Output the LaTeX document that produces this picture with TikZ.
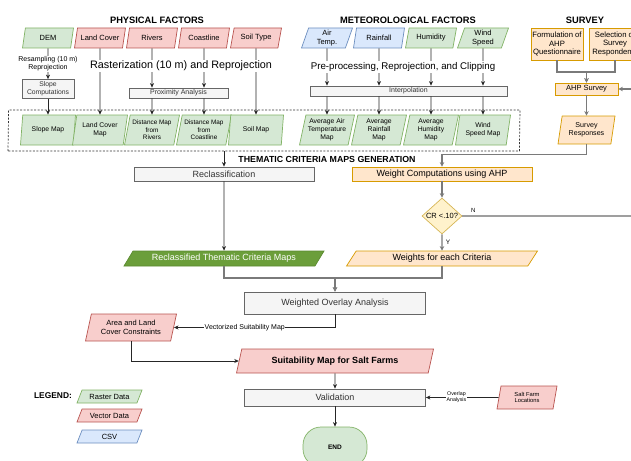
\documentclass[tikz,border=0pt]{standalone}
\usepackage{fontspec}
\setmainfont{Liberation Sans}
\usepackage{tikz}
\usetikzlibrary{arrows.meta, positioning, shapes.geometric}

\definecolor{rastfill}{HTML}{D5E8D4}
\definecolor{rastline}{HTML}{82B366}
\definecolor{vecfill}{HTML}{F8CECC}
\definecolor{vecline}{HTML}{B85450}
\definecolor{csvfill}{HTML}{DAE8FC}
\definecolor{csvline}{HTML}{6C8EBF}
\definecolor{ahpfill}{HTML}{FFE6CC}
\definecolor{ahpline}{HTML}{D79B00}
\definecolor{crfill}{HTML}{FFF2CC}
\definecolor{crline}{HTML}{D6B656}
\definecolor{procfill}{HTML}{F5F5F5}
\definecolor{procline}{HTML}{666666}
\definecolor{proctext}{HTML}{333333}
\definecolor{critfill}{HTML}{6B9E3A}
\definecolor{critline}{HTML}{5B8A30}
\definecolor{linkgray}{HTML}{7A7A7A}

\newcommand{\fsz}[2]{\fontsize{#1}{#2}\selectfont}

\begin{document}
\begin{tikzpicture}[
  x=1pt, y=-1pt,
  para/.style={trapezium, trapezium left angle=#1, trapezium right angle={180-#1},
    trapezium stretches body=true, inner sep=1pt, align=center, line width=0.7pt},
  para/.default=68,
  raster/.style={draw=rastline, fill=rastfill},
  vector/.style={draw=vecline, fill=vecfill},
  csv/.style={draw=csvline, fill=csvfill},
  ahp/.style={draw=ahpline, fill=ahpfill},
  inbox/.style={para=68, minimum width=51pt, minimum height=20pt, font=\fsz{7.5}{8.6}},
  mapbox/.style={para=75, minimum width=55pt, minimum height=30pt, font=\fsz{6.8}{7.8}},
  procbox/.style={rectangle, draw=procline, fill=procfill, text=proctext, inner sep=0pt, align=center, line width=0.7pt},
  ahpbox/.style={rectangle, ahp, inner sep=0pt, align=center, line width=0.7pt},
  legbox/.style={para=55, minimum width=65pt, minimum height=13pt, font=\fsz{7.5}{8.6}},
  heading/.style={font=\bfseries\fsz{9.3}{11}},
  note/.style={fill=white, inner sep=0.5pt, align=center},
  link/.style={draw=black!85, line width=0.8pt, -{Stealth[length=4.5pt,width=4pt,inset=1.3pt]}},
  glink/.style={draw=linkgray, line width=1.2pt, -{Stealth[length=4.5pt,width=4.5pt,inset=1.3pt]}},
  nline/.style={draw=gray!75, line width=1.2pt}
]
\useasboundingbox (0,0) rectangle (631,460);
\clip (0,0) rectangle (631,460);

% headings
\node[heading] (physhead) at (157,20) {PHYSICAL FACTORS};
\node[heading] (methead) at (408,20) {METEOROLOGICAL FACTORS};
\node[heading] (survhead) at (585,20) {SURVEY};
\node[font=\bfseries\fsz{8.8}{10}] (themhead) at (327,159) {THEMATIC CRITERIA MAPS GENERATION};

% input data
\node[inbox, raster] (dem) at (48,38) {DEM};
\node[inbox, vector] (landcover) at (100,38) {Land Cover};
\node[inbox, vector] (rivers) at (152,38) {Rivers};
\node[inbox, vector] (coast) at (204,38) {Coastline};
\node[inbox, vector] (soiltype) at (256,38) {Soil Type};
\node[inbox, csv] (airtemp) at (327,38) {Air\\Temp.};
\node[inbox, csv] (rainfall) at (379,38) {Rainfall};
\node[inbox, raster] (humidity) at (431,38) {Humidity};
\node[inbox, raster] (windspeed) at (483,38) {Wind\\Speed};

% preprocessing
\node[procbox, minimum width=52pt, minimum height=19pt, font=\fsz{6.8}{7.8}] (slopecomp) at (48,89) {Slope\\Computations};
\node[procbox, minimum width=99pt, minimum height=10pt, font=\fsz{7}{8}] (proximity) at (178.5,93) {Proximity Analysis};
\node[procbox, minimum width=197pt, minimum height=10pt, font=\fsz{7}{8}] (interp) at (408.5,91) {Interpolation};

% criteria maps
\node[para=73.7, draw=black!80, dash pattern=on 2pt off 1.5pt, minimum width=512pt, minimum height=41pt] (mapframe) at (264,130.5) {};
\node[mapbox, raster] (slopemap) at (48,130) {Slope Map};
\node[mapbox, raster] (lcmap) at (100,130) {Land Cover\\Map};
\node[mapbox, raster, font=\fsz{6.4}{7.3}] (rivmap) at (152,130) {Distance Map\\from\\Rivers};
\node[mapbox, raster, font=\fsz{6.4}{7.3}] (coastmap) at (204,130) {Distance Map\\from\\Coastline};
\node[mapbox, raster] (soilmap) at (256,130) {Soil Map};
\node[mapbox, raster] (airmap) at (327,130) {Average Air\\Temperature\\Map};
\node[mapbox, raster] (rainmap) at (379,130) {Average\\Rainfall\\Map};
\node[mapbox, raster] (hummap) at (431,130) {Average\\Humidity\\Map};
\node[mapbox, raster] (windmap) at (483,130) {Wind\\Speed Map};

% survey
\node[ahpbox, minimum width=52pt, minimum height=32pt, font=\fsz{7.7}{8.8}] (formulation) at (557,44) {Formulation of\\AHP\\Questionnaire};
\node[ahpbox, minimum width=52pt, minimum height=32pt, font=\fsz{7.7}{8.8}] (selection) at (615,44) {Selection of\\Survey\\Respondents};
\node[ahpbox, minimum width=63pt, minimum height=12pt, font=\fsz{7.5}{8.6}] (ahpsurvey) at (586.5,89) {AHP Survey};
\node[para=76, ahp, minimum width=57pt, minimum height=28pt, font=\fsz{7.1}{8.2}] (responses) at (586.5,130) {Survey\\Responses};
\coordinate (surveyjoin) at (586.5,72);
\coordinate (nreturn) at (645,89);

% thematic criteria maps generation
\node[procbox, minimum width=180pt, minimum height=14pt, font=\fsz{9}{10}] (reclass) at (224,174) {Reclassification};
\node[ahpbox, minimum width=180pt, minimum height=14pt, font=\fsz{9}{10}] (wcomp) at (442,174) {Weight Computations using AHP};
\node[diamond, draw=crline, fill=crfill, line width=0.7pt, minimum width=40pt, minimum height=36pt, inner sep=0pt,
  label={[font=\fsz{7.5}{8.6}]center:CR <.10?}] (cr) at (442,216) {};
\coordinate (nexit) at (645,216);
\node[para=49, draw=critline, fill=critfill, text=white, minimum width=200pt, minimum height=15pt, font=\fsz{9}{10}] (critmaps) at (224,258.5) {Reclassified Thematic Criteria Maps};
\node[para=47, ahp, minimum width=191pt, minimum height=15pt, font=\fsz{9}{10}] (weights) at (442,258.5) {Weights for each Criteria};
\coordinate (overlayjoin) at (335,278);

% overlay and validation
\node[procbox, minimum width=181pt, minimum height=22pt, font=\fsz{9}{10}] (overlay) at (335,303) {Weighted Overlay Analysis};
\node[para=70, vector, minimum width=91pt, minimum height=27pt, font=\fsz{7.5}{8.6}] (constraints) at (131,327.5) {Area and Land\\Cover Constraints};
\node[para=63, vector, minimum width=197pt, minimum height=24pt, font=\bfseries\fsz{9}{10}] (suitmap) at (335,361) {Suitability Map for Salt Farms};
\node[procbox, minimum width=181pt, minimum height=17pt, font=\fsz{9}{10}] (validation) at (335,397.5) {Validation};
\node[para=73, vector, minimum width=60pt, minimum height=23pt, font=\fsz{5.8}{6.8}] (saltfarms) at (527,397.5) {Salt Farm\\Locations};
\node[rectangle, rounded corners=18pt, draw=rastline, fill=rastfill, line width=0.7pt, minimum width=64pt, minimum height=40pt,
  font=\bfseries\fsz{6.5}{7.5}] (finish) at (335,447) {END};

% legend
\node[font=\bfseries\fsz{8.4}{9.6}] (legendhead) at (53,396) {LEGEND:};
\node[legbox, raster] (legraster) at (109.5,396.5) {Raster Data};
\node[legbox, vector] (legvector) at (109.5,415.5) {Vector Data};
\node[legbox, csv] (legcsv) at (109.5,436.5) {CSV};

% connectors
\draw[link] (dem) -- node[note, font=\fsz{7}{8}] {Resampling (10 m)\\Reprojection} (slopecomp);
\draw[link] (slopecomp) -- (slopemap);
\draw[link] (landcover) -- (lcmap);
\draw[link] (rivers) -- (rivers |- proximity.north);
\draw[link] (coast) -- (coast |- proximity.north);
\draw[link] (rivers |- proximity.south) -- (rivmap);
\draw[link] (coast |- proximity.south) -- (coastmap);
\draw[link] (soiltype) -- (soilmap);
\draw[link] (airtemp) -- (airtemp |- interp.north);
\draw[link] (rainfall) -- (rainfall |- interp.north);
\draw[link] (humidity) -- (humidity |- interp.north);
\draw[link] (windspeed) -- (windspeed |- interp.north);
\draw[link] (airtemp |- interp.south) -- (airmap);
\draw[link] (rainfall |- interp.south) -- (rainmap);
\draw[link] (humidity |- interp.south) -- (hummap);
\draw[link] (windspeed |- interp.south) -- (windmap);
\node[fill=white, inner sep=1pt, font=\fsz{10.8}{12}] (rastnote) at (181,66) {Rasterization (10 m) and Reprojection};
\node[fill=white, inner sep=1pt, font=\fsz{9.7}{11}] (prepnote) at (403,67) {Pre-processing, Reprojection, and Clipping};

\draw[glink] (formulation.south) |- (surveyjoin) -- (ahpsurvey.north);
\draw[glink] (selection.south) |- (surveyjoin) -- (ahpsurvey.north);
\draw[glink] (nreturn) -- (ahpsurvey.east);
\draw[glink] (ahpsurvey) -- (responses);
\draw[glink] (responses.south) -- ++(0,10) -| (wcomp.north);
\draw[glink] (wcomp) -- (cr);
\draw[nline] (cr.east) -- node[above, pos=0.06, font=\fsz{6}{7}] {N} (nexit);
\draw[glink] (cr) -- node[right, font=\fsz{6.5}{7.5}] {Y} (weights);

\draw[link] (reclass.north |- mapframe.south) -- (reclass);
\draw[link] (reclass) -- (critmaps);
\draw[glink] (critmaps) |- (overlayjoin) -- (overlay);
\draw[glink] (weights) |- (overlayjoin) -- (overlay);

\draw[link] (overlay) |- node[note, pos=0.78, font=\fsz{7}{8}] {Vectorized Suitability Map} (constraints.right side);
\draw[link] (constraints) |- (suitmap.left side);
\draw[link] (suitmap) -- (validation);
\draw[link] (saltfarms) -- node[note, pos=0.58, font=\fsz{5.3}{6}] {Overlap\\Analysis} (validation);
\draw[link] (validation) -- (finish);
\end{tikzpicture}
\end{document}
